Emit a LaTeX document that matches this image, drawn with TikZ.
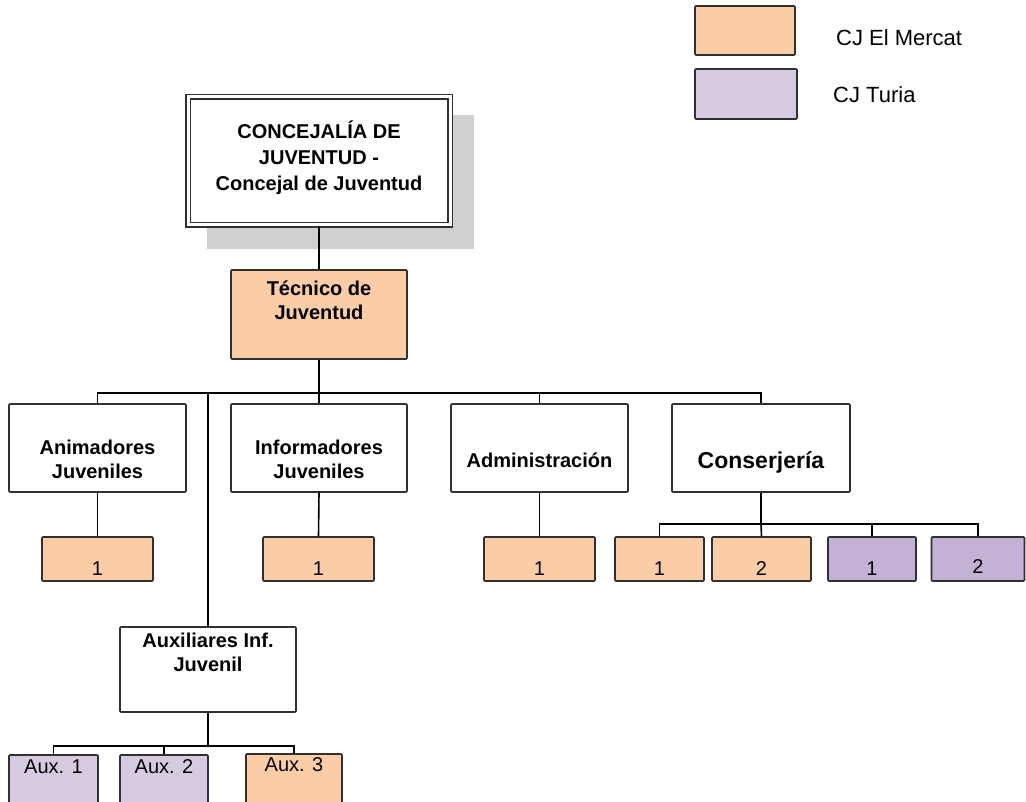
\documentclass[tikz,border=0pt]{standalone}
\usepackage{fontspec}
\setmainfont{Liberation Sans}
\definecolor{mercat}{HTML}{FBCDA6}
\definecolor{turia}{HTML}{D5CAE0}
\definecolor{turiadark}{HTML}{C3B1D6}
\definecolor{shadowgray}{HTML}{D0D0D0}
\definecolor{edge}{HTML}{303030}
\begin{document}
\begin{tikzpicture}[x=1pt,y=-1pt,
  box/.style={draw=edge,line width=1.6pt,rounded corners=1pt,inner sep=0pt,fill=white},
  orgbox/.style={box,minimum width=#1},
  lvltext/.style={font=\fontsize{20}{24}\selectfont\bfseries,align=center,inner sep=0pt},
  numtext/.style={font=\fontsize{20}{24}\selectfont,inner sep=0pt},
  wire/.style={line width=1.6pt,draw=black},
  trunk/.style={line width=2.8pt,draw=black}
]
\useasboundingbox (0,0) rectangle (1026,802);
\clip (0,0) rectangle (1026,802);

% legend
\node[box,fill=mercat,minimum width=100pt,minimum height=49pt] (legO) at (745,30.5) {};
\node[box,fill=turia,minimum width=102pt,minimum height=50pt] (legP) at (746,94) {};
\node[numtext,anchor=west,font=\fontsize{22}{26}\selectfont] (legOt) at (836,38) {CJ El Mercat};
\node[numtext,anchor=west,font=\fontsize{22}{26}\selectfont] (legPt) at (833,95) {CJ Turia};

% head of the department, with its drop shadow
\fill[shadowgray] (207,115) rectangle (474,249);
\node[draw=edge,fill=white,line width=1.4pt,double=white,double distance=3pt,
      minimum width=262pt,minimum height=128pt,inner sep=0pt] (top) at (319,161) {};
\node[lvltext,font=\fontsize{20}{26}\selectfont\bfseries] (topt) at (319,158)
  {CONCEJALÍA DE\\JUVENTUD -\\Concejal de Juventud};

% technician
\node[box,fill=mercat,minimum width=176pt,minimum height=89pt] (tec) at (319,314.5) {};
\node[lvltext] (tect) at (319,300) {Técnico de\\Juventud};

% second level
\node[box,minimum width=177pt,minimum height=88pt] (anim) at (97.5,448) {};
\node[lvltext] (animt) at (97.5,459) {Animadores\\Juveniles};
\node[box,minimum width=176pt,minimum height=88pt] (info) at (319,448) {};
\node[lvltext] (infot) at (319,459) {Informadores\\Juveniles};
\node[box,minimum width=177pt,minimum height=88pt] (admin) at (539.5,448) {};
\node[lvltext] (admint) at (539.5,460) {Administración};
\node[box,minimum width=178pt,minimum height=88pt] (conse) at (761,448) {};
\node[lvltext,font=\fontsize{23}{26}\selectfont\bfseries] (conset) at (761,462) {Conserjería};

% staff counts
\node[box,fill=mercat,minimum width=111pt,minimum height=44pt] (a1) at (97.5,559) {};
\node[numtext] (a1t) at (97.5,569) {1};
\node[box,fill=mercat,minimum width=111pt,minimum height=44pt] (i1) at (318.5,559) {};
\node[numtext] (i1t) at (318.5,569) {1};
\node[box,fill=mercat,minimum width=111pt,minimum height=44pt] (ad1) at (539.5,559) {};
\node[numtext] (ad1t) at (539.5,569) {1};
\node[box,fill=mercat,minimum width=89pt,minimum height=44pt] (c1) at (659.5,559) {};
\node[numtext] (c1t) at (659.5,569) {1};
\node[box,fill=mercat,minimum width=99pt,minimum height=44pt] (c2) at (761.5,559) {};
\node[numtext] (c2t) at (761.5,569) {2};
\node[box,fill=turiadark,minimum width=88pt,minimum height=44pt] (c3) at (872,559) {};
\node[numtext] (c3t) at (872,569) {1};
\node[box,fill=turiadark,minimum width=93pt,minimum height=44pt] (c4) at (978,559) {};
\node[numtext] (c4t) at (978,567) {2};

% assistants
\node[box,minimum width=176pt,minimum height=85pt] (aux) at (208,669.5) {};
\node[lvltext] (auxt) at (208,652) {Auxiliares Inf.\\Juvenil};
\node[box,fill=turia,minimum width=89pt,minimum height=60pt] (x1) at (53.5,785) {};
\node[numtext] (x1t) at (53.5,767) {Aux. 1};
\node[box,fill=turia,minimum width=88pt,minimum height=60pt] (x2) at (164,785) {};
\node[numtext] (x2t) at (164,767) {Aux. 2};
\node[box,fill=mercat,minimum width=96pt,minimum height=62pt] (x3) at (294,785) {};
\node[numtext] (x3t) at (294,765) {Aux. 3};

% connectors
\coordinate (b1) at (319,393);
\coordinate (b2) at (761,524);
\coordinate (b3) at (208,746);
\draw[trunk] (top.south) -- (tec.north);
\draw[trunk] (tec.south) -- (b1);
\draw[wire] (anim.north) |- (b1);
\draw[wire] (conse.north) |- (b1);
\draw[wire] (info.north) -- (b1);
\draw[wire] (admin.north) |- (b1);
\draw[wire] (aux.north) |- (b1);
\draw[wire] (anim.south) -- (a1.north);
\draw[wire] (info.south) -- (i1.north);
\draw[wire] (admin.south) -- (ad1.north);
\draw[trunk] (conse.south) -- (b2);
\draw[wire] (c1.north) |- (b2);
\draw[wire] (c2.north) -- (b2);
\draw[wire] (c3.north) |- (b2);
\draw[wire] (c4.north) |- (b2);
\draw[trunk] (aux.south) -- (b3);
\draw[wire] (x1.north) |- (b3);
\draw[wire] (x2.north) |- (b3);
\draw[wire] (x3.north) |- (b3);
\end{tikzpicture}
\end{document}
